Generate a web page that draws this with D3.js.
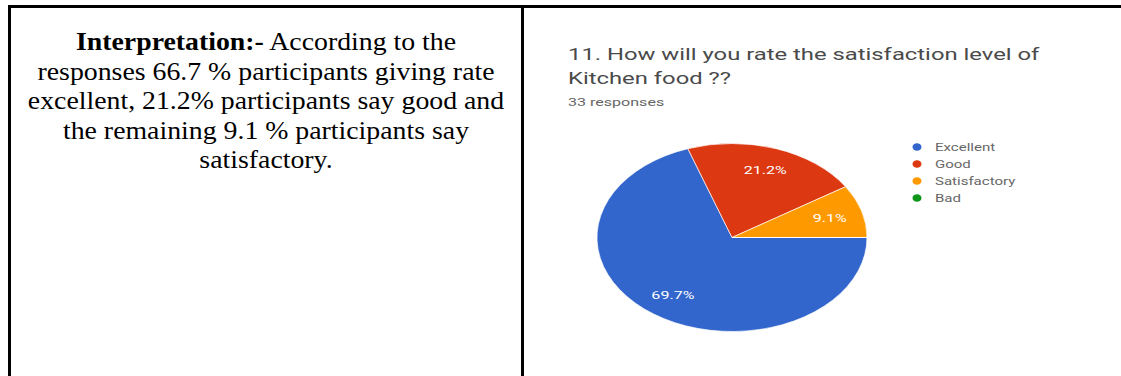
<!DOCTYPE html>
<html>
<head>
<meta charset="utf-8">
<script src="https://cdn.jsdelivr.net/npm/d3@7"></script>
<style>
  body { margin: 0; background: #fff; }
  svg { display: block; }
</style>
</head>
<body>
<div id="chart"></div>
<script>
const width = 1121;
const height = 376;

// survey answers (33 responses)
const categories = ['Excellent', 'Good', 'Satisfactory', 'Bad'];
const counts = [23, 7, 3, 0];
const colors = ['#3366cc', '#dc3912', '#ff9900', '#109618'];

const titleLines = ['11. How will you rate the satisfaction level of', 'Kitchen food ??'];
const subtitle = '33 responses';

const interpretation = [
  [{t: 'Interpretation:-', b: true}, {t: ' According to the'}],
  [{t: 'responses 66.7 % participants giving rate'}],
  [{t: 'excellent, 21.2% participants say good and'}],
  [{t: 'the remaining 9.1 % participants say'}],
  [{t: 'satisfactory.'}]
];

// the screenshot of the form chart is stretched sideways
const stretch = 1.46;

const svg = d3.select('#chart').append('svg')
  .attr('width', width)
  .attr('height', height);

function place(x, y, sx) {
  return `translate(${x},${y}) scale(${sx},1)`;
}

// table lines
const border = svg.append('g').attr('stroke', '#000').attr('stroke-width', 3);
border.append('line').attr('x1', 8).attr('x2', width).attr('y1', 6.5).attr('y2', 6.5);
border.append('line').attr('x1', 9.5).attr('x2', 9.5).attr('y1', 5).attr('y2', height);
border.append('line').attr('x1', 522.5).attr('x2', 522.5).attr('y1', 5).attr('y2', height);

// left cell text
const leftText = svg.append('g')
  .attr('font-family', '"Liberation Serif", "Times New Roman", serif')
  .attr('font-size', 26)
  .attr('fill', '#000')
  .attr('text-anchor', 'middle');

interpretation.forEach((line, i) => {
  const t = leftText.append('text')
    .attr('transform', place(266, 50 + i * 29.5, 1.07));
  line.forEach(part => {
    t.append('tspan')
      .attr('font-weight', part.b ? 'bold' : 'normal')
      .text(part.t);
  });
});

// right cell: google-forms style pie
const title = svg.append('g')
  .attr('font-family', 'Roboto, "Open Sans", sans-serif')
  .attr('fill', '#4a4a4a');

title.selectAll('text.title')
  .data(titleLines)
  .join('text')
  .attr('class', 'title')
  .attr('transform', (d, i) => place(568, 60 + i * 24, stretch * 1.02))
  .attr('font-size', 16)
  .text(d => d);

title.append('text')
  .attr('transform', place(568, 106, stretch))
  .attr('font-size', 11)
  .attr('fill', '#666')
  .text(subtitle);

const cx = 732, cy = 237.5;
const rx = 135, ry = 94;
const total = d3.sum(counts);

const pie = d3.pie()
  .sort(null)
  .startAngle(Math.PI / 2)
  .endAngle(Math.PI / 2 + 2 * Math.PI)
  .value(d => d);

const arcs = pie(counts);
const arc = d3.arc().innerRadius(0).outerRadius(rx);
const labelArc = d3.arc().innerRadius(rx * 0.755).outerRadius(rx * 0.755);

const pieG = svg.append('g')
  .attr('transform', `translate(${cx},${cy}) scale(1,${ry / rx})`);

pieG.selectAll('path')
  .data(arcs)
  .join('path')
  .attr('d', arc)
  .attr('fill', (d, i) => colors[i])
  .attr('stroke', '#fff')
  .attr('stroke-width', 0.8);

svg.append('g')
  .selectAll('text')
  .data(arcs.filter(d => d.value > 0))
  .join('text')
  .attr('transform', d => place(cx + labelArc.centroid(d)[0], cy + labelArc.centroid(d)[1] * ry / rx + 4, stretch))
  .attr('text-anchor', 'middle')
  .attr('font-family', 'Roboto, sans-serif')
  .attr('font-size', 11)
  .attr('fill', '#fff')
  .text(d => (d.value / total * 100).toFixed(1) + '%');

// legend
const legend = svg.append('g')
  .attr('font-family', 'Roboto, sans-serif')
  .attr('font-size', 10.5);

const rows = legend.selectAll('g')
  .data(categories)
  .join('g')
  .attr('transform', (d, i) => `translate(917,${147 + i * 17})`);

rows.append('ellipse')
  .attr('rx', 4.5)
  .attr('ry', 3.8)
  .attr('fill', (d, i) => colors[i]);

rows.append('text')
  .attr('transform', place(18, 3.5, stretch * 0.98))
  .attr('fill', '#666')
  .text(d => d);
</script>
</body>
</html>
